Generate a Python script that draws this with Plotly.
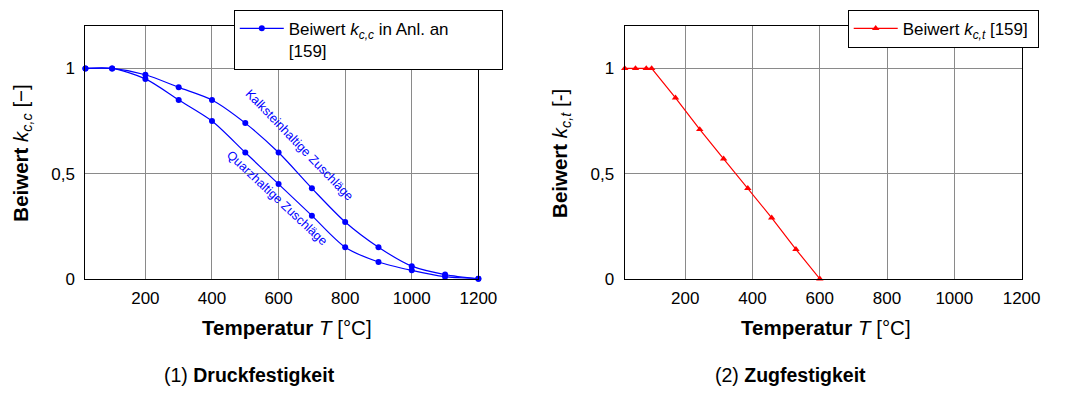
import plotly.graph_objects as go

# Temperature-dependent reduction factors for concrete strength
T_druck = [20, 100, 200, 300, 400, 500, 600, 700, 800, 900, 1000, 1100, 1200]
k_kalk = [1.00, 1.00, 0.97, 0.91, 0.85, 0.74, 0.60, 0.43, 0.27, 0.15, 0.06, 0.02, 0.00]
k_quarz = [1.00, 1.00, 0.95, 0.85, 0.75, 0.60, 0.45, 0.30, 0.15, 0.08, 0.04, 0.01, 0.00]

T_zug = [20, 52, 84, 100, 171, 243, 314, 386, 457, 529, 600]
k_zug = [1.00, 1.00, 1.00, 1.00, 0.86, 0.71, 0.57, 0.43, 0.29, 0.14, 0.00]

x_ticks = [200, 400, 600, 800, 1000, 1200]
y_ticks = [0, 0.5, 1]
y_ticktext = ["0", "0,5", "1"]

FONT = "Liberation Sans, Arial, sans-serif"
W, H = 1073, 396
BLUE = "#0000ff"
RED = "#ff0000"
PAD = "&nbsp;"

fig = go.Figure()

fig.add_trace(go.Scatter(
    x=T_druck, y=k_kalk, mode="lines+markers", line_shape="spline",
    line=dict(color=BLUE, width=1.2, smoothing=0.8),
    marker=dict(symbol="circle", size=6, color=BLUE),
    name="Beiwert <i>k<sub>c,c</sub></i> in Anl. an" + PAD * 10 + "<br>[159]",
    legend="legend", xaxis="x", yaxis="y", cliponaxis=False,
))
fig.add_trace(go.Scatter(
    x=T_druck, y=k_quarz, mode="lines+markers", line_shape="spline",
    line=dict(color=BLUE, width=1.2, smoothing=0.8),
    marker=dict(symbol="circle", size=6, color=BLUE),
    showlegend=False, xaxis="x", yaxis="y", cliponaxis=False,
))
fig.add_trace(go.Scatter(
    x=T_zug, y=k_zug, mode="lines+markers",
    line=dict(color=RED, width=1.2),
    marker=dict(symbol="triangle-up", size=6.5, color=RED),
    name="Beiwert <i>k<sub>c,t</sub></i> [159]" + PAD,
    legend="legend2", xaxis="x2", yaxis="y2", cliponaxis=False,
))

def px_x(p):
    return p / W

def px_y(p):
    return 1 - p / H

axis_common = dict(
    showline=True, mirror=True, linecolor="black", linewidth=1.2,
    showgrid=True, gridcolor="#8a8a8a", gridwidth=1,
    zeroline=False, ticks="",
    tickfont=dict(family=FONT, size=17, color="black"),
)

y_dom = [px_y(286), px_y(27)]
legend_common = dict(
    xanchor="left", yanchor="top",
    bgcolor="white", bordercolor="black", borderwidth=1,
    font=dict(family=FONT, size=17, color="black"),
    itemwidth=44, valign="top",
)
fig.update_layout(
    width=W, height=H,
    margin=dict(l=0, r=0, t=0, b=0),
    paper_bgcolor="white", plot_bgcolor="white",
    font=dict(family=FONT, color="black"),
    xaxis=dict(domain=[px_x(87), px_x(487)], range=[20, 1200],
               tickvals=x_ticks, anchor="y", ticklabelstandoff=4, **axis_common),
    yaxis=dict(domain=y_dom, range=[0, 1.2], tickvals=y_ticks,
               ticktext=y_ticktext, anchor="x", ticklabelstandoff=6, **axis_common),
    xaxis2=dict(domain=[px_x(636), px_x(1040)], range=[20, 1200],
                tickvals=x_ticks, anchor="y2", ticklabelstandoff=4, **axis_common),
    yaxis2=dict(domain=y_dom, range=[0, 1.2], tickvals=y_ticks,
                ticktext=y_ticktext, anchor="x2", ticklabelstandoff=6, **axis_common),
    legend=dict(x=px_x(238), y=px_y(10), **legend_common),
    legend2=dict(x=px_x(863), y=px_y(10), **legend_common),
    showlegend=True,
)

def label(text, x, y, size=20.5, angle=0):
    return dict(text=text, x=px_x(x), y=px_y(y), xref="paper", yref="paper",
                xanchor="center", yanchor="middle", showarrow=False,
                textangle=angle, font=dict(size=size))

annotations = [
    # axis titles
    label("<b>Temperatur</b> <i>T</i> [°C]", 292, 336),
    label("<b>Temperatur</b> <i>T</i> [°C]", 841, 336),
    label("<b>Beiwert</b> <i>k<sub>c,c</sub></i> [−]", 22, 157, angle=-90),
    label("<b>Beiwert</b> <i>k<sub>c,t</sub></i> [-]", 571, 157, angle=-90),
    # sub-figure captions
    label("(1) <b>Druckfestigkeit</b>", 254, 385, size=19.5),
    label("(2) <b>Zugfestigkeit</b>", 805, 385, size=19.5),
    # curve labels
    dict(text="Kalksteinhaltige Zuschläge", x=662, y=0.636, xref="x", yref="y",
         xanchor="center", yanchor="middle", showarrow=False, textangle=46,
         font=dict(size=12.5, color=BLUE)),
    dict(text="Quarzhaltige Zuschläge", x=595, y=0.384, xref="x", yref="y",
         xanchor="center", yanchor="middle", showarrow=False, textangle=43,
         font=dict(size=12.5, color=BLUE)),
]
fig.update_layout(annotations=annotations)

fig.write_html("out.html")
